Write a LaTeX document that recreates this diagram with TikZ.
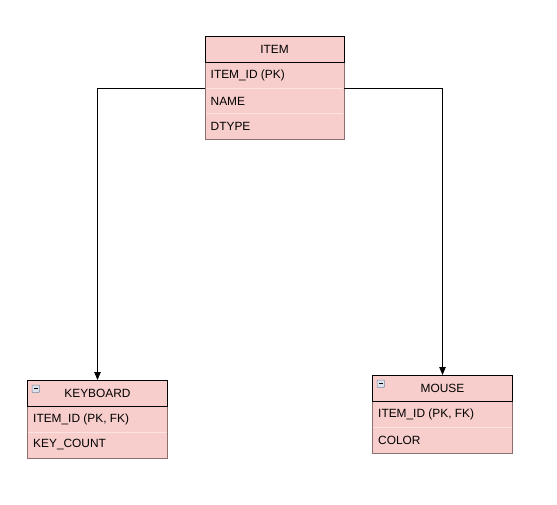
\documentclass[tikz,border=0pt]{standalone}
\usepackage{fontspec}
\setmainfont{Liberation Sans}
\usetikzlibrary{arrows.meta}
\definecolor{erfill}{HTML}{F8CECC}
\definecolor{erbody}{HTML}{8C6E6E}
\definecolor{ersep}{HTML}{FBE3E2}
\definecolor{iconfill}{HTML}{DCE3EC}
\definecolor{iconline}{HTML}{7C8A9C}
\tikzset{
  hdr/.style={draw=black, fill=erfill, line width=0.8pt},
  body/.style={draw=erbody, fill=erfill, line width=0.8pt},
  sepline/.style={draw=ersep, line width=0.8pt},
  rowtxt/.style={anchor=west, inner sep=0pt, font=\fontsize{11.9}{14}\selectfont},
  hdrtxt/.style={inner sep=0pt, font=\fontsize{11.9}{14}\selectfont},
  conn/.style={draw=black, line width=0.8pt, -{Triangle[length=8pt,width=6.5pt]}},
  icon/.style={draw=iconline, fill=iconfill, line width=0.5pt, rounded corners=0.8pt}
}
\begin{document}
\begin{tikzpicture}[x=1pt,y=-1pt]
\useasboundingbox[fill=white] (0,0) rectangle (557,505);
% ITEM
\draw[body] (205,62) rectangle (344,139);
\draw[sepline] (205.8,88) -- (343.2,88);
\draw[sepline] (205.8,113.5) -- (343.2,113.5);
\draw[hdr] (205,36) rectangle (344,62);
\node[hdrtxt] (itemH) at (274.5,49) {ITEM};
\node[rowtxt] (itemA) at (210.5,75) {ITEM\_ID (PK)};
\node[rowtxt] (itemB) at (210.5,101) {NAME};
\node[rowtxt] (itemC) at (210.5,126.5) {DTYPE};
\coordinate (itemL) at (205,88);
\coordinate (itemR) at (344,88);
% KEYBOARD
\draw[body] (27.5,406) rectangle (167.5,458);
\draw[sepline] (28.3,432) -- (166.7,432);
\draw[hdr] (27.5,380) rectangle (167.5,406);
\draw[icon] (32,385) rectangle (39.5,392.5);
\draw[black, line width=0.8pt] (33.8,388.8) -- (37.7,388.8);
\node[hdrtxt] (kbH) at (97.5,393.5) {KEYBOARD};
\node[rowtxt] (kbA) at (33,419) {ITEM\_ID (PK, FK)};
\node[rowtxt] (kbB) at (33,445) {KEY\_COUNT};
\coordinate (kbT) at (97.5,380);
% MOUSE
\draw[body] (372.5,401) rectangle (512.5,453.5);
\draw[sepline] (373.3,427.3) -- (511.7,427.3);
\draw[hdr] (372.5,375) rectangle (512.5,401);
\draw[icon] (377,380) rectangle (384.5,387.5);
\draw[black, line width=0.8pt] (378.8,383.8) -- (382.7,383.8);
\node[hdrtxt] (msH) at (442.5,388.5) {MOUSE};
\node[rowtxt] (msA) at (378,414) {ITEM\_ID (PK, FK)};
\node[rowtxt] (msB) at (378,440) {COLOR};
\coordinate (msT) at (442.5,375);
% connectors
\draw[conn] (itemL) -- (97.5,88) -- (kbT);
\draw[conn] (itemR) -- (442.5,88) -- (msT);
\end{tikzpicture}
\end{document}
